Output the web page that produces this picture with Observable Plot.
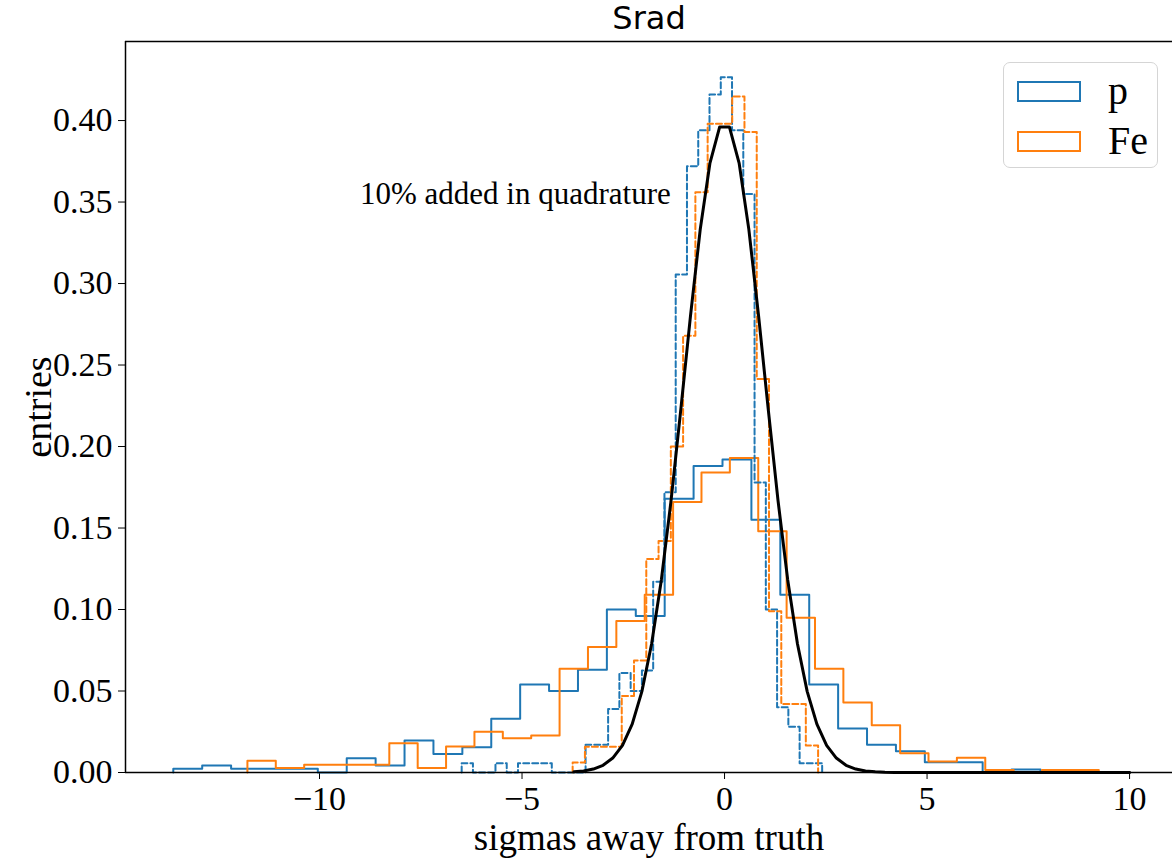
<!DOCTYPE html>
<html>
<head>
<meta charset="utf-8">
<script src="https://cdn.jsdelivr.net/npm/d3@7"></script>
<script src="https://cdn.jsdelivr.net/npm/@observablehq/plot@0.6"></script>
<style>
  html, body { margin: 0; padding: 0; background: #fff; }
  #wrap { position: relative; width: 1172px; height: 862px; overflow: hidden; font-family: "Liberation Serif", serif; }
  #legend { position: absolute; left: 1003px; top: 62px; width: 155px; height: 106px; border: 1.5px solid #d5d5d5; border-radius: 7px; background: rgba(255,255,255,0.85); box-sizing: border-box; }
  .lg-row { position: absolute; left: 13px; display: flex; align-items: center; }
  .lg-sw { width: 64px; height: 21px; box-sizing: border-box; border: 2px solid; }
  .lg-tx { margin-left: 27px; font-size: 40px; color: #000; line-height: 1; }
</style>
</head>
<body>
<div id="wrap"></div>
<script>
// ---- data ----
const title = "Srad";
const xLabel = "sigmas away from truth";
const yLabel = "entries";
const note = "10% added in quadrature";
const notePos = [-9.0, 0.355];
const xTicks = [-10, -5, 0, 5, 10];
const yTicks = [0, 0.05, 0.10, 0.15, 0.20, 0.25, 0.30, 0.35, 0.40];
const xDomain = [-14.79, 11.06];
const yDomain = [0, 0.4485];
const seriesNames = ["p", "Fe"];
const seriesColors = ["#1f77b4", "#ff7f0e"];

// wide (solid) histograms: range + bin heights
const pWideRange = [-13.61, 7.80];
const pWide = [0.0023, 0.0043, 0.0023, 0.0023, 0.0023, 0, 0.0088, 0.0043, 0.0196, 0.0113,
  0.0155, 0.033, 0.054, 0.050, 0.063, 0.100, 0.096, 0.168, 0.188, 0.192,
  0.155, 0.109, 0.054, 0.027, 0.017, 0.013, 0.0063, 0.0063, 0, 0.0018];
const feWideRange = [-11.78, 9.24];
const feWide = [0.0072, 0.0027, 0.0047, 0.0047, 0.0047, 0.018, 0.0027, 0.016, 0.025, 0.021,
  0.0227, 0.0636, 0.077, 0.093, 0.109, 0.166, 0.184, 0.193, 0.148, 0.095,
  0.0636, 0.043, 0.029, 0.0118, 0.0067, 0.009, 0.0015, 0, 0.0015, 0.0015];
// narrow (dashed) histograms: 10% added in quadrature
const pNarrowRange = [-6.49, 2.41];
const pNarrow = [0.0057, 0, 0, 0.0057, 0, 0.0057, 0.0057, 0.0057, 0, 0,
  0, 0.017, 0.017, 0.039, 0.061, 0.050, 0.0626, 0.117, 0.172, 0.3055,
  0.372, 0.394, 0.416, 0.4266, 0.394, 0.355, 0.178, 0.100, 0.040, 0.028,
  0.0057, 0.0057];
const feNarrowRange = [-3.75, 2.31];
const feNarrow = [0.0061, 0.0158, 0.0158, 0.0158, 0.047, 0.0687, 0.131, 0.142, 0.20, 0.268,
  0.356, 0.398, 0.398, 0.4147, 0.393, 0.2415, 0.099, 0.042, 0.042, 0.0166];

// unit gaussian reference curve (sampled values)
const gaussX = [-3.72, -3.48, -3.24, -3.00, -2.76, -2.52, -2.28, -2.04, -1.80, -1.56, -1.32, -1.08, -0.84, -0.60, -0.36, -0.12,
  0.12, 0.36, 0.60, 0.84, 1.08, 1.32, 1.56, 1.80, 2.04, 2.28, 2.52, 2.76, 3.00, 3.24, 3.48, 3.72, 3.96, 4.20, 4.44, 10.0];
const gaussY = [0.000395, 0.000936, 0.002096, 0.00443, 0.00885, 0.01667, 0.02966, 0.04980, 0.07895, 0.11816, 0.16693, 0.22266, 0.28034, 0.33322, 0.37391, 0.39608,
  0.39608, 0.37391, 0.33322, 0.28034, 0.22266, 0.16693, 0.11816, 0.07895, 0.04980, 0.02966, 0.01667, 0.00885, 0.00443, 0.002096, 0.000936, 0.000395, 0.000157, 0.000059, 0.000021, 0];

// ---- build step outlines ----
function stepPoints(range, heights) {
  const n = heights.length, w = (range[1] - range[0]) / n;
  const pts = [{x: range[0], y: 0}];
  heights.forEach((h, i) => pts.push({x: range[0] + i * w, y: h}));
  pts.push({x: range[1], y: 0});
  return pts;
}
const gauss = gaussX.map((x, i) => ({x, y: gaussY[i]}));

const fmtX = d => d < 0 ? "\u2212" + Math.abs(d) : String(d);

const chart = Plot.plot({
  width: 1172,
  height: 862,
  marginTop: 41,
  marginLeft: 125,
  marginRight: 0,
  marginBottom: 90,
  style: {fontFamily: "Liberation Serif", background: "white", color: "#000"},
  x: {domain: xDomain},
  y: {domain: yDomain},
  marks: [
    Plot.axisX({ticks: xTicks, tickFormat: fmtX, tickSize: 7, tickPadding: 6, fontSize: 34, label: null}),
    Plot.axisY({ticks: yTicks, tickFormat: d3.format(".2f"), tickSize: 7, tickPadding: 6, fontSize: 34, label: null}),
    Plot.text([xLabel], {frameAnchor: "bottom", lineAnchor: "middle", dy: 66, fontSize: 37, text: d => d}),
    Plot.text([yLabel], {frameAnchor: "left", textAnchor: "middle", lineAnchor: "middle", dx: -87, rotate: -90, fontSize: 38, text: d => d}),
    Plot.text([title], {frameAnchor: "top", lineAnchor: "middle", dy: -23, fontSize: 32, text: d => d, fontFamily: "DejaVu Sans"}),
    Plot.line(stepPoints(pWideRange, pWide), {x: "x", y: "y", curve: "step-after", stroke: seriesColors[0], strokeWidth: 2}),
    Plot.line(stepPoints(feWideRange, feWide), {x: "x", y: "y", curve: "step-after", stroke: seriesColors[1], strokeWidth: 2}),
    Plot.line(stepPoints(pNarrowRange, pNarrow), {x: "x", y: "y", curve: "step-after", stroke: seriesColors[0], strokeWidth: 2, strokeDasharray: "6,3"}),
    Plot.line(stepPoints(feNarrowRange, feNarrow), {x: "x", y: "y", curve: "step-after", stroke: seriesColors[1], strokeWidth: 2, strokeDasharray: "6,3"}),
    Plot.line(gauss, {x: "x", y: "y", stroke: "#000", strokeWidth: 3}),
    Plot.text([note], {x: () => notePos[0], y: () => notePos[1], text: d => d, textAnchor: "start", fontSize: 31}),
    Plot.ruleY([yDomain[0]], {stroke: "#000", strokeWidth: 1.5}),
    Plot.ruleY([yDomain[1]], {stroke: "#000", strokeWidth: 1.5}),
    Plot.ruleX([xDomain[0]], {stroke: "#000", strokeWidth: 1.5})
  ]
});

const wrap = document.getElementById("wrap");
wrap.appendChild(chart);

// legend
const legend = document.createElement("div");
legend.id = "legend";
seriesNames.forEach((name, i) => {
  const row = document.createElement("div");
  row.className = "lg-row";
  row.style.top = (8 + i * 50) + "px";
  const sw = document.createElement("div");
  sw.className = "lg-sw";
  sw.style.borderColor = seriesColors[i];
  const tx = document.createElement("span");
  tx.className = "lg-tx";
  tx.textContent = name;
  row.appendChild(sw);
  row.appendChild(tx);
  legend.appendChild(row);
});
wrap.appendChild(legend);
</script>
</body>
</html>
